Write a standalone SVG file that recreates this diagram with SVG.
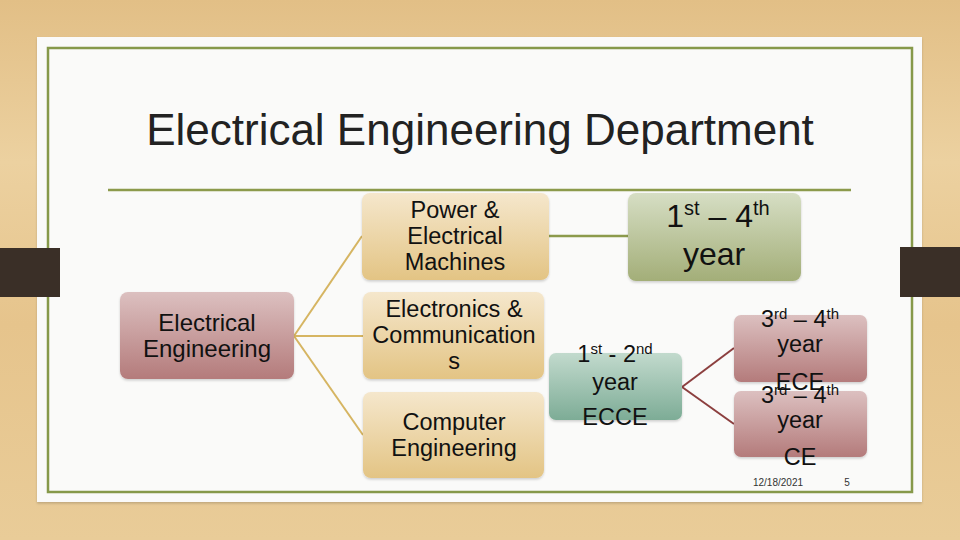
<svg xmlns="http://www.w3.org/2000/svg" width="960" height="540" viewBox="0 0 960 540">
<defs>
<linearGradient id="wood" x1="0" y1="0" x2="0" y2="1">
<stop offset="0" stop-color="#e2bf86"/>
<stop offset="0.3" stop-color="#ecd1a0"/>
<stop offset="0.6" stop-color="#e6c48c"/>
<stop offset="1" stop-color="#e9cc98"/>
</linearGradient>
<linearGradient id="gTan" x1="0" y1="0" x2="0" y2="1">
<stop offset="0" stop-color="#f5e7cc"/>
<stop offset="1" stop-color="#e3c484"/>
</linearGradient>
<linearGradient id="gPink" x1="0" y1="0" x2="0" y2="1">
<stop offset="0" stop-color="#dcc0c0"/>
<stop offset="1" stop-color="#b47b7b"/>
</linearGradient>
<linearGradient id="gOlive" x1="0" y1="0" x2="0" y2="1">
<stop offset="0" stop-color="#d6dec4"/>
<stop offset="1" stop-color="#a3ae78"/>
</linearGradient>
<linearGradient id="gTeal" x1="0" y1="0" x2="0" y2="1">
<stop offset="0" stop-color="#c2dacd"/>
<stop offset="1" stop-color="#7dac96"/>
</linearGradient>
<filter id="sh" x="-10%" y="-10%" width="120%" height="130%">
<feDropShadow dx="0" dy="1.5" stdDeviation="1.2" flood-color="#000" flood-opacity="0.18"/>
</filter>
<style>
text{font-family:"Liberation Sans",Arial,sans-serif;fill:#111;text-anchor:middle}
.n{font-size:23.5px}
.sup{font-size:15px}
.gold{stroke:#d6b562;stroke-width:2;fill:none}
.red{stroke:#8c3f3f;stroke-width:2;fill:none}
.olive{stroke:#8c9a4c;stroke-width:2.5;fill:none}
</style>
</defs>
<rect x="0" y="0" width="960" height="540" fill="url(#wood)"/>
<rect x="37" y="37" width="885" height="465" fill="#fafaf9" filter="url(#sh)"/>
<rect x="48" y="48" width="864" height="444" fill="none" stroke="#86994a" stroke-width="2.5"/>
<rect x="0" y="248" width="60" height="49" fill="#3a2f27"/>
<rect x="900" y="247" width="60" height="50" fill="#3a2f27"/>
<text x="480" y="145" style="font-size:44px;fill:#222">Electrical Engineering Department</text>
<line x1="108" y1="190" x2="851" y2="190" class="olive"/>
<g id="connectors">
<path class="gold" d="M294,336 L362,236"/>
<path class="gold" d="M294,336 L363,336"/>
<path class="gold" d="M294,336 L363,435"/>
<path class="olive" d="M549,236 L628,236"/>
<path class="red" d="M682,387 L734,348"/>
<path class="red" d="M682,387 L734,424"/>
</g>
<g id="ee">
<rect x="120" y="292" width="174" height="87" rx="8" fill="url(#gPink)" filter="url(#sh)"/>
<text class="n" x="207" y="331" style="font-size:24px">Electrical</text>
<text class="n" x="207" y="357" style="font-size:24px">Engineering</text>
</g>
<g id="power">
<rect x="362" y="193" width="187" height="87" rx="8" fill="url(#gTan)" filter="url(#sh)"/>
<text class="n" x="455" y="218">Power &amp;</text>
<text class="n" x="455" y="244">Electrical</text>
<text class="n" x="455" y="270">Machines</text>
</g>
<g id="ece">
<rect x="363" y="292" width="181" height="87" rx="8" fill="url(#gTan)" filter="url(#sh)"/>
<text class="n" x="454" y="317">Electronics &amp;</text>
<text class="n" x="454" y="343">Communication</text>
<text class="n" x="454" y="369">s</text>
</g>
<g id="comp">
<rect x="363" y="392" width="181" height="86" rx="8" fill="url(#gTan)" filter="url(#sh)"/>
<text class="n" x="454" y="430">Computer</text>
<text class="n" x="454" y="456">Engineering</text>
</g>
<g id="y14">
<rect x="628" y="193" width="173" height="88" rx="8" fill="url(#gOlive)" filter="url(#sh)"/>
<text x="718" y="227" style="font-size:32px">1<tspan dy="-12" style="font-size:20px">st</tspan><tspan dy="12"> – 4</tspan><tspan dy="-12" style="font-size:20px">th</tspan></text>
<text x="714" y="265" style="font-size:32px">year</text>
</g>
<g id="y12">
<rect x="549" y="353" width="133" height="67" rx="7" fill="url(#gTeal)" filter="url(#sh)"/>
<text class="n" x="615" y="362">1<tspan dy="-8" class="sup">st</tspan><tspan dy="8"> - 2</tspan><tspan dy="-8" class="sup">nd</tspan></text>
<text class="n" x="615" y="390">year</text>
<text class="n" x="615" y="425">ECCE</text>
</g>
<g id="y34ece">
<rect x="734" y="315" width="133" height="67" rx="7" fill="url(#gPink)" filter="url(#sh)"/>
<text class="n" x="800" y="327">3<tspan dy="-8" class="sup">rd</tspan><tspan dy="8"> – 4</tspan><tspan dy="-8" class="sup">th</tspan></text>
<text class="n" x="800" y="352">year</text>
<text class="n" x="800" y="390">ECE</text>
</g>
<g id="y34ce">
<rect x="734" y="391" width="133" height="66" rx="7" fill="url(#gPink)" filter="url(#sh)"/>
<text class="n" x="800" y="403">3<tspan dy="-8" class="sup">rd</tspan><tspan dy="8"> – 4</tspan><tspan dy="-8" class="sup">th</tspan></text>
<text class="n" x="800" y="428">year</text>
<text class="n" x="800" y="465">CE</text>
</g>
<text x="778" y="486" style="font-size:10px;fill:#333">12/18/2021</text>
<text x="847" y="486" style="font-size:10px;fill:#333">5</text>
</svg>
